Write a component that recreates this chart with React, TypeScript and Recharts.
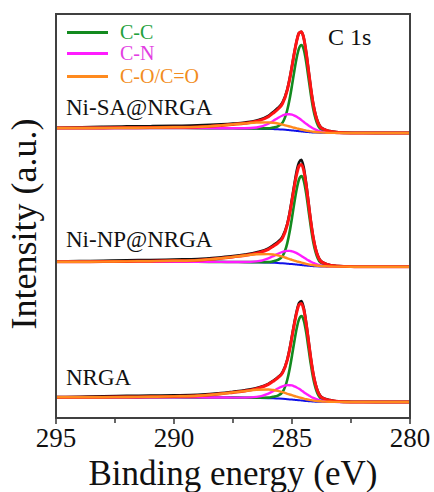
import { LineChart, Line, XAxis, YAxis } from 'recharts'

// binding energy grid (eV), shared by every curve
const energy = [
  295, 294, 293, 292, 291, 290, 289, 288, 287.5, 287, 286.5, 286, 285.8, 285.6, 285.4, 285.2, 285.1, 285.0, 284.9,
  284.8, 284.7, 284.6, 284.5, 284.4, 284.3, 284.2, 284.1, 284.0, 283.8, 283.6, 283.4, 283.2, 283, 282.5, 282, 281, 280,
]

const xTicks = [295, 292.5, 290, 287.5, 285, 282.5, 280]

// Ni-SA@NRGA
const saRaw = [5.3, 5.7, 6.2, 6.6, 6.8, 7.2, 7.6, 8.6, 9.4, 10.5, 12.6, 17.2, 21.0, 25.0, 30.6, 43.6, 54.2, 67.0, 80.4, 92.3, 100.0, 101.2, 94.8, 80.9, 62.8, 44.7, 29.2, 18.2, 6.6, 3.4, 1.9, 1.1, 0.7, 0.3, 0.2, 0.1, 0.1]
const saFit = [5.0, 5.0, 5.1, 5.2, 5.4, 5.7, 6.1, 7.6, 8.6, 9.7, 11.8, 16.3, 19.8, 23.8, 29.5, 42.9, 53.7, 66.7, 80.3, 92.1, 99.9, 101.2, 94.7, 80.7, 62.6, 44.4, 28.8, 17.8, 6.1, 3.1, 1.7, 0.9, 0.5, 0.1, 0, 0, 0]
const saBg = [5.0, 5.0, 5.0, 5.0, 5.0, 5.0, 4.9, 4.8, 4.7, 4.6, 4.4, 4.1, 3.9, 3.7, 3.4, 3.0, 2.8, 2.6, 2.35, 2.1, 1.85, 1.6, 1.35, 1.1, 0.9, 0.7, 0.55, 0.4, 0.2, 0.1, 0, 0, 0, 0, 0, 0, 0]
const saCC = [5.0, 5.0, 5.0, 5.0, 5.0, 5.0, 4.9, 4.8, 4.7, 4.6, 4.6, 4.6, 5.4, 6.7, 10.4, 23.0, 34.0, 47.6, 62.3, 75.5, 84.9, 88.0, 83.4, 71.3, 54.9, 38.3, 24.1, 14.2, 4.2, 2.1, 1.2, 0.7, 0.4, 0.1, 0, 0, 0]
const saCN = [5.0, 5.0, 5.0, 5.0, 5.0, 5.0, 4.9, 4.8, 4.7, 4.7, 5.5, 9.3, 12.0, 15.0, 17.5, 18.8, 18.8, 18.4, 17.45, 16.2, 14.65, 12.9, 11.05, 9.2, 7.5, 5.9, 4.55, 3.4, 1.7, 0.8, 0.3, 0.1, 0, 0, 0, 0, 0]
const saCO = [5.0, 5.0, 5.1, 5.2, 5.4, 5.7, 6.1, 7.6, 8.6, 9.6, 10.5, 10.6, 10.2, 9.5, 8.4, 7.1, 6.5, 5.9, 5.25, 4.6, 4.05, 3.5, 2.95, 2.4, 2.0, 1.6, 1.3, 1.0, 0.6, 0.35, 0.15, 0.1, 0.05, 0, 0, 0, 0]

// Ni-NP@NRGA
const npRaw = [5.2, 5.6, 6.0, 6.5, 6.7, 7.2, 7.6, 9.4, 10.6, 12.2, 14.4, 18.3, 21.4, 24.8, 30.2, 43.0, 54.0, 68.0, 82.5, 96.0, 104.5, 107.0, 99.0, 83.5, 64.2, 45.2, 29.4, 18.2, 6.4, 3.3, 1.8, 1.0, 0.6, 0.3, 0.2, 0.1, 0.1]
const npFit = [5.0, 5.0, 5.1, 5.3, 5.5, 5.9, 6.5, 8.5, 9.8, 11.3, 13.5, 17.3, 20.3, 23.6, 28.7, 41.8, 52.7, 66.1, 80.2, 92.5, 100.7, 102.3, 95.9, 81.7, 63.3, 44.8, 29.1, 17.8, 6.0, 3.1, 1.6, 0.9, 0.5, 0.1, 0, 0, 0]
const npBg = [5.0, 5.0, 5.0, 5.0, 5.0, 5.0, 4.9, 4.8, 4.7, 4.6, 4.4, 4.1, 3.9, 3.7, 3.4, 3.0, 2.8, 2.6, 2.35, 2.1, 1.85, 1.6, 1.35, 1.1, 0.9, 0.7, 0.55, 0.4, 0.2, 0.1, 0, 0, 0, 0, 0, 0, 0]
const npCC = [5.0, 5.0, 5.0, 5.0, 5.0, 5.0, 4.9, 4.8, 4.7, 4.6, 4.6, 4.6, 5.4, 6.8, 10.6, 23.6, 34.9, 49.0, 64.1, 77.7, 87.4, 90.6, 85.9, 73.4, 56.5, 39.4, 24.8, 14.6, 4.3, 2.2, 1.2, 0.7, 0.4, 0.1, 0, 0, 0]
const npCN = [5.0, 5.0, 5.0, 5.0, 5.0, 5.0, 4.9, 4.8, 4.7, 4.7, 5.3, 8.3, 10.5, 12.9, 14.9, 15.8, 15.8, 15.4, 14.65, 13.6, 12.25, 10.8, 9.25, 7.7, 6.3, 4.9, 3.85, 2.8, 1.4, 0.7, 0.2, 0.1, 0, 0, 0, 0, 0]
const npCO = [5.0, 5.0, 5.1, 5.3, 5.5, 5.9, 6.5, 8.5, 9.8, 11.2, 12.4, 12.6, 12.2, 11.3, 10.0, 8.4, 7.6, 6.9, 6.15, 5.4, 4.75, 4.1, 3.45, 2.8, 2.3, 1.9, 1.55, 1.2, 0.7, 0.4, 0.2, 0.1, 0.1, 0, 0, 0, 0]

// NRGA
const nrRaw = [4.9, 5.3, 5.8, 6.1, 6.4, 6.7, 7.2, 8.9, 10.3, 11.8, 14.1, 18.2, 21.3, 24.8, 29.8, 42.5, 53.2, 66.2, 79.3, 91.0, 99.0, 101.0, 94.0, 79.4, 61.6, 43.5, 28.4, 17.6, 6.2, 3.2, 1.9, 1.0, 0.6, 0.3, 0.2, 0.1, 0.1]
const nrFit = [4.7, 4.7, 4.8, 5.0, 5.2, 5.6, 6.2, 8.2, 9.6, 11.0, 13.4, 17.6, 20.7, 24.2, 29.1, 41.8, 52.2, 65.0, 77.9, 89.5, 97.2, 98.5, 92.1, 78.6, 61.1, 43.2, 28.1, 17.4, 5.9, 3.0, 1.7, 0.9, 0.5, 0.1, 0, 0, 0]
const nrBg = [4.7, 4.7, 4.7, 4.7, 4.7, 4.7, 4.6, 4.5, 4.4, 4.3, 4.1, 3.85, 3.65, 3.45, 3.2, 2.8, 2.6, 2.45, 2.2, 2.0, 1.75, 1.5, 1.25, 1.05, 0.85, 0.65, 0.5, 0.35, 0.2, 0.1, 0, 0, 0, 0, 0, 0, 0]
const nrCC = [4.7, 4.7, 4.7, 4.7, 4.7, 4.7, 4.6, 4.5, 4.4, 4.3, 4.3, 4.35, 5.15, 6.35, 10.0, 22.3, 33.1, 46.45, 60.7, 73.7, 82.85, 85.9, 81.35, 69.65, 53.65, 37.35, 23.5, 13.85, 4.1, 2.1, 1.2, 0.7, 0.4, 0.1, 0, 0, 0]
const nrCN = [4.7, 4.7, 4.7, 4.7, 4.7, 4.7, 4.6, 4.5, 4.4, 4.4, 5.1, 8.45, 10.85, 13.55, 15.7, 16.9, 16.8, 16.55, 15.6, 14.5, 13.15, 11.6, 9.85, 8.25, 6.75, 5.25, 4.1, 3.05, 1.5, 0.7, 0.3, 0.1, 0, 0, 0, 0, 0]
const nrCO = [4.7, 4.7, 4.8, 5.0, 5.2, 5.6, 6.2, 8.2, 9.6, 10.9, 12.2, 12.45, 11.95, 11.15, 9.8, 8.2, 7.5, 6.85, 6.0, 5.3, 4.65, 4.0, 3.35, 2.75, 2.35, 1.85, 1.5, 1.15, 0.7, 0.4, 0.2, 0.1, 0.1, 0, 0, 0, 0]

// vertical stacking of the three spectra (a.u.)
const samples = [
  { key: 'sa', name: 'Ni-SA@NRGA', offset: 285, raw: saRaw, fit: saFit, bg: saBg, cc: saCC, cn: saCN, co: saCO },
  { key: 'np', name: 'Ni-NP@NRGA', offset: 151.3, raw: npRaw, fit: npFit, bg: npBg, cc: npCC, cn: npCN, co: npCO },
  { key: 'nr', name: 'NRGA', offset: 16, raw: nrRaw, fit: nrFit, bg: nrBg, cc: nrCC, cn: nrCN, co: nrCO },
]

// draw order: later ones sit on top
const series = [
  { k: 'raw', color: '#111111', width: 2.6 },
  { k: 'bg', color: '#1010e8', width: 2 },
  { k: 'cc', color: '#138a1f', width: 2.6 },
  { k: 'cn', color: '#ff1cff', width: 2.4 },
  { k: 'fit', color: '#ff1414', width: 3 },
  { k: 'co', color: '#ff8a1e', width: 2.4 },
]

const rows = energy.map((be, i) => {
  const row: Record<string, number> = { be }
  samples.forEach((s: any) => {
    series.forEach(({ k }) => {
      row[`${s.key}_${k}`] = s[k][i] + s.offset
    })
  })
  return row
})

const SERIF = "Liberation Serif"
const FRAME = '#404040'

function BottomTick(props: any) {
  const { x, y, payload } = props
  const major = payload.value % 5 === 0
  return (
    <g>
      <line x1={x} x2={x} y1={y} y2={y + (major ? 6 : 5)} stroke={FRAME} strokeWidth={1.6} />
      {major && (
        <text x={x} y={y + 29} textAnchor="middle" style={{ fontFamily: SERIF, fontSize: 27 }} fill="#111">
          {payload.value}
        </text>
      )}
    </g>
  )
}

const legendItems = [
  { label: 'C-C', color: '#138a1f', text: '#23a03c', y: 32.5 },
  { label: 'C-N', color: '#ff1cff', text: '#e23ee2', y: 53.5 },
  { label: 'C-O/C=O', color: '#ff8a1e', text: '#f28c20', y: 76.5 },
]

export default function App() {
  return (
    <div style={{ position: 'absolute', left: 0, top: 0, width: 434, height: 492, background: '#fff', fontFamily: SERIF }}>
      <LineChart width={434} height={492} data={rows} margin={{ top: 14, right: 24, left: 56, bottom: 14 }}>
        <XAxis
          dataKey="be"
          type="number"
          domain={[280, 295]}
          reversed
          ticks={xTicks}
          interval={0}
          axisLine={false}
          tickLine={false}
          tickSize={0}
          tickMargin={0}
          height={60}
          tick={<BottomTick />}
        />
        <YAxis type="number" domain={[0, 404]} hide />
        {samples.map((s) =>
          series.map(({ k, color, width }) => (
            <Line
              key={`${s.key}_${k}`}
              dataKey={`${s.key}_${k}`}
              type="monotone"
              stroke={color}
              strokeWidth={width}
              dot={false}
              activeDot={false}
              isAnimationActive={false}
            />
          ))
        )}
      </LineChart>
      <svg
        width={434}
        height={492}
        style={{ position: 'absolute', left: 0, top: 0, pointerEvents: 'none', fontFamily: SERIF }}
      >
        <rect x={56} y={14} width={354} height={404} fill="none" stroke={FRAME} strokeWidth={2} />
        {legendItems.map((l) => (
          <g key={l.label}>
            <line x1={67} x2={108} y1={l.y} y2={l.y} stroke={l.color} strokeWidth={3} />
            <text x={120} y={l.y + 6.5} fontSize={20} fill={l.text}>
              {l.label}
            </text>
          </g>
        ))}
        <text x={328} y={45} fontSize={24} fill="#111">
          C 1s
        </text>
        <text x={66} y={115} fontSize={23} fill="#111">
          {samples[0].name}
        </text>
        <text x={66} y={246.5} fontSize={23} fill="#111">
          {samples[1].name}
        </text>
        <text x={66} y={385} fontSize={23} fill="#111">
          {samples[2].name}
        </text>
        <text x={233} y={485} fontSize={35} textAnchor="middle" fill="#111">
          Binding energy (eV)
        </text>
        <text transform="translate(36,224) rotate(-90)" fontSize={36} textAnchor="middle" fill="#111">
          Intensity (a.u.)
        </text>
      </svg>
    </div>
  )
}
